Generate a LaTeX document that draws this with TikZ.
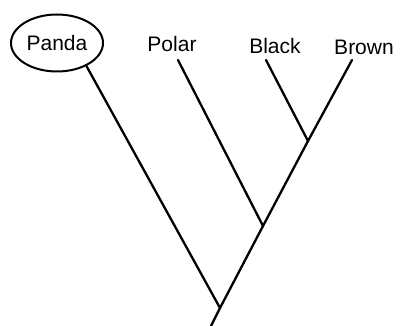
\documentclass[tikz,border=0pt]{standalone}
\usepackage{fontspec}
\setsansfont{Liberation Sans}
\usetikzlibrary{shapes.geometric}
\begin{document}
\begin{tikzpicture}[x=1pt,y=-1pt,font=\sffamily\fontsize{21}{24}\selectfont,
  branch/.style={line width=2.3pt,line cap=round},
  taxon/.style={inner sep=1pt}]
  \useasboundingbox (0,0) rectangle (417,326);

  % Tip labels; the panda is circled.
  \node[taxon,draw,ellipse,line width=2pt,minimum width=92pt,minimum height=57pt] (panda) at (57,43) {Panda};
  \node[taxon] (polar) at (172,44) {Polar};
  \node[taxon] (black) at (275,46) {Black};
  \node[taxon] (brown) at (364,47) {Brown};

  % Where each branch leaves its label.
  \coordinate (polartip) at (178,60);
  \coordinate (blacktip) at (266,60);
  \coordinate (browntip) at (352,60);

  % Splits, from the root upward.
  \coordinate (stem) at (211,326);
  \coordinate (root) at (220,308);
  \coordinate (ursus) at (263,226);
  \coordinate (sister) at (308,141);

  \draw[branch] (stem) -- (root) -- (ursus) -- (sister) -- (browntip);
  \draw[branch] (panda.-38) -- (root);
  \draw[branch] (polartip) -- (ursus);
  \draw[branch] (blacktip) -- (sister);
\end{tikzpicture}
\end{document}
